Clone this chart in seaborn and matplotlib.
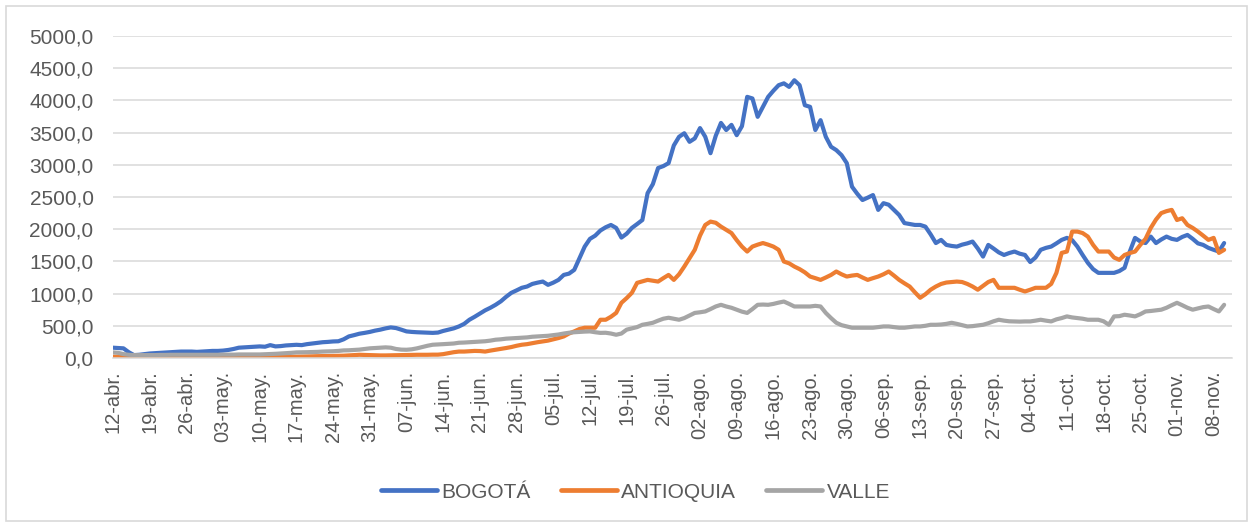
import pandas as pd
import numpy as np
import matplotlib
matplotlib.use("Agg")
import matplotlib.pyplot as plt
import seaborn as sns
from matplotlib.patches import Rectangle
from matplotlib.ticker import FuncFormatter

# daily values from 12-abr to 10-nov (one row per week)
bogota = [
    160, 155, 150, 90, 45, 50, 60,
    70, 75, 80, 85, 90, 95, 100,
    100, 100, 95, 100, 105, 110, 110,
    115, 125, 140, 160, 165, 170, 175,
    180, 175, 200, 180, 185, 195, 200,
    205, 200, 215, 225, 235, 245, 250,
    257, 260, 290, 335, 355, 377, 390,
    405, 425, 440, 460, 475, 465, 440,
    413, 405, 400, 397, 393, 390, 395,
    420, 440, 460, 490, 530, 594, 640,
    690, 740, 780, 826, 880, 950, 1012,
    1050, 1090, 1110, 1150, 1170, 1187, 1136,
    1170, 1213, 1290, 1310, 1368, 1550, 1730,
    1850, 1900, 1980, 2030, 2066, 2020, 1870,
    1930, 2020, 2080, 2143, 2560, 2700, 2950,
    2980, 3026, 3300, 3435, 3490, 3357, 3410,
    3570, 3435, 3180, 3450, 3650, 3540, 3620,
    3460, 3600, 4055, 4030, 3745, 3900, 4055,
    4150, 4236, 4265, 4210, 4313, 4236, 3925,
    3900, 3540, 3693, 3435, 3280, 3228, 3150,
    3026, 2660, 2550, 2453, 2490, 2530, 2300,
    2404, 2380, 2300, 2220, 2095, 2080, 2066,
    2066, 2040, 1920, 1785, 1834, 1756, 1740,
    1730, 1760, 1780, 1808, 1700, 1575, 1756,
    1700, 1640, 1600, 1630, 1653, 1620, 1600,
    1490, 1560, 1680, 1710, 1730, 1780, 1834,
    1865, 1830, 1730, 1600, 1477, 1380, 1322,
    1322, 1322, 1322, 1350, 1400, 1653, 1865,
    1810, 1785, 1885, 1785, 1840, 1885, 1850,
    1834, 1880, 1911, 1850, 1780, 1756, 1710,
    1680, 1653, 1785,
]

antioquia = [
    20, 20, 15, 10, 10, 10, 10,
    10, 10, 10, 12, 12, 12, 12,
    12, 12, 12, 14, 14, 14, 15,
    15, 15, 15, 16, 16, 16, 18,
    18, 18, 18, 20, 20, 20, 20,
    20, 22, 24, 26, 28, 30, 30,
    32, 34, 36, 40, 45, 50, 48,
    45, 42, 40, 40, 42, 44, 45,
    46, 48, 50, 50, 50, 52, 52,
    60, 75, 90, 100, 100, 105, 110,
    108, 100, 115, 128, 140, 155, 170,
    190, 206, 215, 230, 245, 258, 270,
    290, 310, 335, 380, 413, 450, 470,
    470, 470, 594, 594, 640, 700, 857,
    930, 1012, 1167, 1190, 1213, 1200, 1187,
    1240, 1290, 1213, 1300, 1420, 1550, 1680,
    1900, 2066, 2118, 2100, 2040, 1990, 1940,
    1830, 1730, 1653, 1730, 1760, 1785, 1760,
    1730, 1680, 1498, 1470, 1420, 1380, 1330,
    1265, 1240, 1213, 1250, 1290, 1343, 1300,
    1265, 1280, 1290, 1250, 1213, 1240, 1265,
    1300, 1343, 1280, 1213, 1160, 1110, 1020,
    935, 990, 1060, 1110, 1150, 1172, 1180,
    1187, 1180, 1150, 1110, 1060, 1120, 1180,
    1213, 1090, 1090, 1090, 1090, 1060, 1033,
    1060, 1090, 1090, 1090, 1150, 1322, 1632,
    1653, 1963, 1963, 1940, 1885, 1756, 1653,
    1653, 1653, 1560, 1524, 1600, 1630, 1653,
    1756, 1850, 2020, 2150, 2250, 2280, 2300,
    2143, 2170, 2066, 2020, 1963, 1900, 1834,
    1865, 1632, 1680,
]

valle = [
    87, 80, 60, 50, 45, 45, 45,
    45, 45, 48, 48, 50, 50, 50,
    50, 50, 50, 50, 50, 50, 50,
    52, 52, 52, 55, 55, 55, 55,
    55, 58, 60, 65, 70, 75, 80,
    87, 88, 90, 92, 95, 100, 102,
    105, 110, 118, 120, 125, 130, 140,
    150, 155, 160, 165, 160, 140, 130,
    128, 135, 150, 170, 190, 206, 210,
    215, 220, 225, 237, 240, 245, 250,
    255, 260, 270, 284, 290, 300, 305,
    310, 315, 320, 330, 335, 340, 345,
    355, 365, 380, 392, 400, 405, 410,
    413, 400, 390, 392, 380, 361, 380,
    440, 460, 480, 516, 530, 547, 580,
    610, 625, 610, 594, 620, 660, 700,
    710, 723, 760, 800, 826, 800, 780,
    750, 720, 700, 760, 826, 830, 826,
    840, 860, 877, 840, 800, 800, 800,
    800, 810, 800, 700, 620, 547, 510,
    490, 470, 470, 470, 470, 470, 480,
    490, 490, 480, 470, 470, 480, 490,
    490, 500, 516, 516, 520, 530, 547,
    530, 510, 490, 495, 505, 516, 540,
    570, 594, 580, 570, 568, 565, 568,
    568, 580, 594, 580, 568, 600, 620,
    646, 630, 620, 610, 594, 594, 594,
    570, 516, 646, 650, 672, 660, 646,
    680, 723, 730, 740, 750, 780, 820,
    857, 820, 780, 750, 770, 790, 800,
    760, 723, 826,
]

week_labels = [
    "12-abr.", "19-abr.", "26-abr.", "03-may.", "10-may.", "17-may.",
    "24-may.", "31-may.", "07-jun.", "14-jun.", "21-jun.", "28-jun.",
    "05-jul.", "12-jul.", "19-jul.", "26-jul.", "02-ago.", "09-ago.",
    "16-ago.", "23-ago.", "30-ago.", "06-sep.", "13-sep.", "20-sep.",
    "27-sep.", "04-oct.", "11-oct.", "18-oct.", "25-oct.", "01-nov.",
    "08-nov.",
]

series_names = ["BOGOTÁ", "ANTIOQUIA", "VALLE"]
colors = ["#4472C4", "#ED7D31", "#A5A5A5"]

n = len(bogota)
df = pd.DataFrame({
    "dia": list(range(n)) * 3,
    "valor": bogota + antioquia + valle,
    "serie": [series_names[0]] * n + [series_names[1]] * n + [series_names[2]] * n,
})

sns.set_style("white")
plt.rcParams["font.family"] = ["Liberation Sans", "DejaVu Sans"]

fig = plt.figure(figsize=(12.53, 5.27), dpi=100)
ax = fig.add_axes([113 / 1253, 1 - 358 / 527, 1119 / 1253, 322 / 527])

sns.lineplot(data=df, x="dia", y="valor", hue="serie", hue_order=series_names,
             palette=colors, linewidth=3.0, ax=ax, legend=False)

ax.set_xlim(0, 213.5)
ax.set_ylim(0, 5000)
ax.set_yticks(np.arange(0, 5001, 500))
ax.yaxis.set_major_formatter(FuncFormatter(lambda v, p: f"{v:.1f}".replace(".", ",")))
ax.set_xticks(np.arange(0, 7 * len(week_labels), 7))
ax.set_xticklabels(week_labels, rotation=90)
ax.set_xlabel("")
ax.set_ylabel("")

ax.grid(axis="y", color="#D9D9D9", linewidth=1.1)
ax.set_axisbelow(True)
for side in ["left", "right", "top"]:
    ax.spines[side].set_visible(False)
ax.spines["bottom"].set_color("#D9D9D9")
ax.spines["bottom"].set_linewidth(1.1)

ax.tick_params(axis="y", length=0, pad=14, labelsize=15, labelcolor="#595959")
ax.tick_params(axis="x", length=5, width=1, color="#D9D9D9", pad=4,
               labelsize=14.5, labelcolor="#595959")

handles = [plt.Line2D([], [], color=c, linewidth=3.4) for c in colors]
fig.legend(handles, series_names, loc="center", bbox_to_anchor=(0.507, 0.066),
           ncol=3, frameon=False, fontsize=15, handlelength=2.7,
           handletextpad=0.2, columnspacing=1.45, labelcolor="#595959")

fig.add_artist(Rectangle((6 / 1253, 6 / 527), 1241 / 1253, 515 / 527,
                         transform=fig.transFigure, fill=False,
                         edgecolor="#D9D9D9", linewidth=1.2))

fig.savefig("out.png", dpi=100)
